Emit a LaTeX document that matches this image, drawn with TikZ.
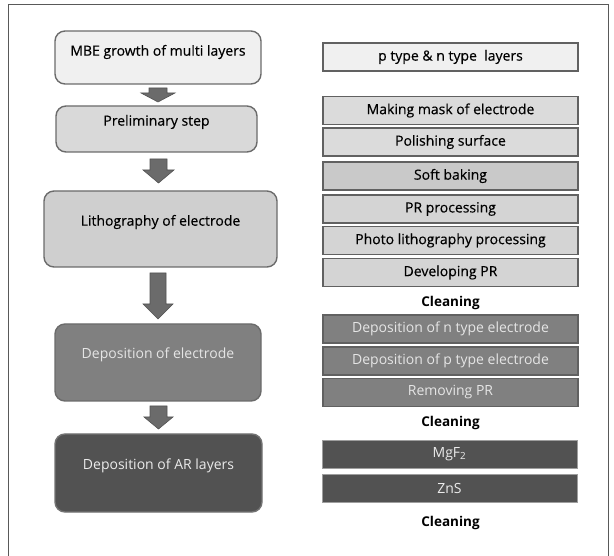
\documentclass[tikz,border=0pt]{standalone}
\usepackage{fontspec}
\setmainfont{Open Sans}
\newfontfamily\heavyfont[FakeBold=0.35]{Open Sans}
\begin{document}
\begin{tikzpicture}[x=1pt,y=-1pt,
  lbox/.style={draw=black!58,line width=1.4pt,rounded corners=10pt,inner sep=0pt,anchor=center},
  rbox/.style={draw=black!62,line width=1.6pt,minimum width=255pt,minimum height=28pt,inner sep=0pt,font=\heavyfont\fontsize{14}{16}\selectfont,anchor=center},
  rboxd/.style={rbox,font=\fontsize{14}{16}\selectfont,fill=black!50,text=black!10},
  dbox/.style={draw=black!38,line width=0.6pt,minimum width=255pt,minimum height=28pt,inner sep=0pt,font=\fontsize{14}{16}\selectfont,anchor=center,fill=black!68,text=black!8},
  ltext/.style={font=\heavyfont\fontsize{14}{16}\selectfont,inner sep=0pt,anchor=center},
  ltextd/.style={font=\fontsize{14}{16}\selectfont,inner sep=0pt,anchor=center},
  clean/.style={font=\bfseries\fontsize{13.5}{15}\selectfont,inner sep=0pt,anchor=center},
  barrow/.style={fill=black!58,draw=black!68,line width=0.6pt}
]
\useasboundingbox (0,0) rectangle (614,556);
% frame (no bottom edge)
\draw[black!65,line width=1pt] (8,556) -- (8,5) -- (608,5) -- (608,556);

% left column boxes
\node[lbox,fill=black!6,minimum width=206pt,minimum height=53pt] (mbe) at (158,57.5) {};
\node[ltext] (tmbe) at (158,52) {MBE growth of multi layers};
\node[lbox,fill=black!15,minimum width=201pt,minimum height=46pt] (pre) at (156.5,129) {};
\node[ltext] (tpre) at (156.5,122) {Preliminary step};
\node[lbox,fill=black!19,minimum width=233pt,minimum height=76pt] (lith) at (160.5,229) {};
\node[ltext] (tlith) at (160.5,222) {Lithography of electrode};
\node[lbox,fill=black!50,minimum width=206pt,minimum height=77pt] (dep) at (158,362.5) {};
\node[ltextd,text=black!10] (tdep) at (158,355) {Deposition of electrode};
\node[lbox,fill=black!68,draw=black!55,minimum width=207pt,minimum height=78pt] (ar) at (158.5,473) {};
\node[ltextd,text=black!8] (tar) at (158.5,466) {Deposition of AR layers};

% block arrows
\draw[barrow] (149,88) -- (167,88) -- (167,93) -- (175,93) -- (158,102) -- (141,93) -- (149,93) -- cycle;
\draw[barrow] (150,159) -- (167,159) -- (167,170) -- (174,170) -- (158.5,183) -- (143,170) -- (150,170) -- cycle;
\draw[barrow] (150,273) -- (166,273) -- (166,304) -- (173,304) -- (158,319) -- (143,304) -- (150,304) -- cycle;
\draw[barrow] (150,406) -- (167,406) -- (167,417) -- (173,417) -- (158.5,429) -- (144,417) -- (150,417) -- cycle;

% right column
\node[rbox,fill=black!6] (pn) at (450.5,57) {p type \& n type\ \ layers};
\node[rbox,fill=black!14] (mask) at (450.5,110.5) {Making mask of electrode};
\node[rbox,fill=black!14] (pol) at (450.5,142) {Polishing surface};
\node[rbox,fill=black!21] (soft) at (450.5,176) {Soft baking};
\node[rbox,fill=black!17] (prp) at (450.5,209) {PR processing};
\node[rbox,fill=black!17] (photo) at (450.5,240.5) {Photo lithography processing};
\node[rbox,fill=black!17] (devel) at (450.5,272.5) {Developing PR};
\node[clean] (c1) at (450.5,303) {Cleaning};
\node[rboxd] (depn) at (450.5,329) {Deposition of n type electrode};
\node[rboxd] (depp) at (450.5,361) {Deposition of p type electrode};
\node[rboxd] (rem) at (450.5,392.5) {Removing PR};
\node[clean] (c2) at (450.5,423) {Cleaning};
\node[dbox] (mgf) at (449.5,454.5) {MgF\textsubscript{2}};
\node[dbox] (zns) at (449.5,488) {ZnS};
\node[clean] (c3) at (450.5,523) {Cleaning};
\end{tikzpicture}
\end{document}
